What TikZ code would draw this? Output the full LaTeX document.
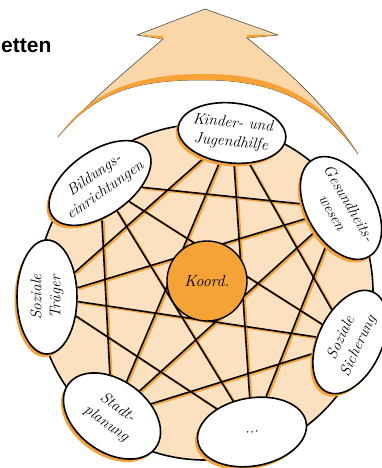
\documentclass[tikz,border=0pt]{standalone}
\usepackage{fontspec}
\newfontfamily\headfont{Liberation Sans}
\usetikzlibrary{shapes.geometric,shadows,backgrounds}

\definecolor{webfill}{HTML}{FCE1C1}
\definecolor{arrowfill}{HTML}{FAD6A8}
\definecolor{accent}{HTML}{F5A236}

\begin{document}
\begin{tikzpicture}[x=1pt,y=-1pt,
    partner/.style={ellipse,draw=black,line width=1.6pt,fill=white,align=center,
      inner sep=-4pt,font=\fontsize{15.5}{19}\selectfont\itshape,
      general shadow={fill=accent,shadow xshift=-2.5pt,shadow yshift=-3pt}},
    web/.style={line width=1.6pt},
    webshade/.style={draw=accent,line width=2.2pt},
    ]
\useasboundingbox (0,0) rectangle (382,468);

\node[font=\headfont\bfseries\fontsize{21}{24}\selectfont,anchor=base west,inner sep=0pt] (title) at (1,53) {etten};

% arrow on top
\draw[draw=gray!60!black,line width=0.6pt,fill=arrowfill]
  (205,9) -- (278,35) -- (247,38) .. controls (290,72) and (330,110) .. (358,154)
  .. controls (320,100) and (270,80) .. (205,80)
  .. controls (150,80) and (100,85) .. (58,137)
  .. controls (85,105) and (125,72) .. (163,39) -- (137,35) -- cycle;
\fill[accent] (58,137) .. controls (100,85) and (150,80) .. (205,80)
  .. controls (270,80) and (320,100) .. (358,154)
  .. controls (320,94) and (270,74) .. (205,74)
  .. controls (150,74) and (95,84) .. (58,137);
\fill[accent] (163,39) -- (139,35) -- (163,36) -- cycle;
\fill[accent] (247,38) -- (276,35) -- (247,35) -- cycle;

% partners
\node[partner,minimum width=108,minimum height=60,rotate=-6] (kj) at (232,133) {Kinder- und\\Jugendhilfe};
\node[partner,minimum width=112,minimum height=64,rotate=35] (bild) at (100,183) {Bildungs-\\einrichtungen};
\node[partner,minimum width=112,minimum height=68,rotate=-60] (ges) at (341,208) {Gesundheits-\\wesen};
\node[partner,minimum width=114,minimum height=60,rotate=90] (st) at (47,297) {Soziale\\Tr\"ager};
\node[partner,minimum width=110,minimum height=64,rotate=65] (ss) at (350,342) {Soziale\\Sicherung};
\node[partner,minimum width=108,minimum height=72,rotate=-36] (stadt) at (112,416) {Stadt-\\planung};
\node[partner,minimum width=110,minimum height=68,rotate=10] (dots) at (252,432) {...};

\node[circle,draw=black,line width=1.4pt,fill=accent,minimum size=80,
  font=\fontsize{16}{18}\selectfont\itshape] (koord) at (207,281) {Koord.};

\begin{scope}[on background layer]
  \fill[webfill] (205,292) circle (168);
  \draw[web] (205,292) circle (168);
  \begin{scope}[transform canvas={shift={(1.6pt,-1.2pt)}}]
    \foreach \a/\b in {kj/ss,kj/dots,kj/stadt,kj/st,ges/dots,ges/stadt,ges/st,ges/bild,
                       ss/stadt,ss/st,ss/bild,dots/st,dots/bild,stadt/bild}
      \draw[webshade] (\a) -- (\b);
  \end{scope}
  \foreach \a/\b in {kj/ss,kj/dots,kj/stadt,kj/st,ges/dots,ges/stadt,ges/st,ges/bild,
                     ss/stadt,ss/st,ss/bild,dots/st,dots/bild,stadt/bild}
    \draw[web] (\a) -- (\b);
\end{scope}
\end{tikzpicture}
\end{document}
